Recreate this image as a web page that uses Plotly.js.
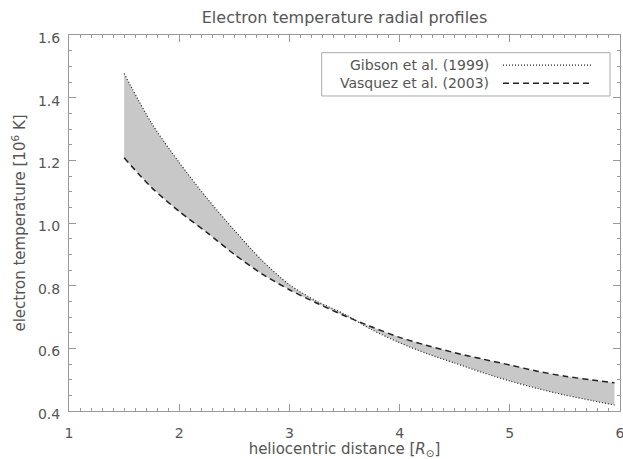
<!DOCTYPE html>
<html>
<head>
<meta charset="utf-8">
<script src="https://cdn.plot.ly/plotly-3.0.1.min.js"></script>
<style>html,body{margin:0;padding:0;background:#fff}#chart{width:623px;height:459px}</style>
</head>
<body>
<div id="chart"></div>
<script>
// Heliocentric distance [R_sun]
const distance = [1.5, 1.75, 2.0, 2.25, 2.5, 2.75, 3.0, 3.25, 3.5, 3.75, 4.0, 4.25, 4.5, 4.75, 5.0, 5.25, 5.5, 5.75, 5.95];
// Gibson et al. (1999) electron temperature [10^6 K]
const gibson = [1.477, 1.318, 1.193, 1.080, 0.977, 0.881, 0.803, 0.750, 0.709, 0.659, 0.618, 0.583, 0.553, 0.523, 0.496, 0.472, 0.451, 0.433, 0.419];
// Vasquez et al. (2003) electron temperature [10^6 K]
const vasquez = [1.208, 1.113, 1.037, 0.970, 0.900, 0.838, 0.787, 0.744, 0.704, 0.668, 0.635, 0.609, 0.586, 0.566, 0.547, 0.527, 0.511, 0.499, 0.490];
const seriesNames = ["Gibson et al. (1999)", "Vasquez et al. (2003)"];
const yTicks = [0.4, 0.6, 0.8, 1.0, 1.2, 1.4, 1.6];
const xTicks = [1, 2, 3, 4, 5, 6];

const textColor = "#555";
const axisColor = "#999";
const fam = "DejaVu Sans, sans-serif";
const dotted = {color: "#222", width: 1.2, dash: "1px,2px", shape: "spline", smoothing: 0.8};
const dashed = {color: "#222", width: 1.5, dash: "6px,4px", shape: "spline", smoothing: 0.8};

const traces = [
  {x: distance, y: vasquez, type: "scatter", mode: "lines", name: seriesNames[1],
   line: Object.assign({}, dashed, {color: "rgba(0,0,0,0)"}), showlegend: false, hoverinfo: "skip"},
  {x: distance, y: gibson, type: "scatter", mode: "lines", name: seriesNames[0],
   line: dotted, fill: "tonexty", fillcolor: "#c8c8c8", showlegend: false, hoverinfo: "skip"},
  {x: distance, y: vasquez, type: "scatter", mode: "lines", name: seriesNames[1],
   line: dashed, showlegend: false, hoverinfo: "skip"}
];

const axisCommon = {
  showgrid: false, zeroline: false, showline: true, linecolor: axisColor, linewidth: 1,
  mirror: "allticks", ticks: "inside", ticklen: 7, tickcolor: axisColor, tickwidth: 1,
  ticklabeloverflow: "allow",
  tickfont: {family: fam, color: textColor, size: 14}
};

const layout = {
  width: 623, height: 459,
  margin: {l: 69, r: 3, t: 35, b: 48},
  paper_bgcolor: "#fff", plot_bgcolor: "#fff",
  title: {text: "Electron temperature radial profiles", font: {family: fam, color: textColor, size: 16},
          x: 0.553, xanchor: "center", y: 0.962, yanchor: "middle"},
  xaxis: Object.assign({}, axisCommon, {
    range: [1, 6], tickvals: xTicks, ticktext: xTicks.map(String), ticklabelstandoff: 9,
    minor: {dtick: 0.1, ticks: "inside", ticklen: 3, tickcolor: axisColor},
    title: {text: "heliocentric distance [<i>R</i><sub>⊙</sub>]", font: {family: fam, color: textColor, size: 15}, standoff: 4}
  }),
  yaxis: Object.assign({}, axisCommon, {
    range: [0.4, 1.6], tickvals: yTicks, ticktext: yTicks.map(v => v.toFixed(1)), ticklabelstandoff: 5,
    ticklabelshift: 3,
    minor: {dtick: 0.05, ticks: "inside", ticklen: 3, tickcolor: axisColor},
    title: {text: "electron temperature [10<sup>6</sup> K]", font: {family: fam, color: textColor, size: 15}, standoff: 8}
  }),
  shapes: [
    {type: "rect", xref: "paper", yref: "paper", x0: 0.4586, x1: 0.9819, y0: 0.8378, y1: 0.953,
     line: {color: "#aaa", width: 1}, fillcolor: "rgba(0,0,0,0)"},
    {type: "line", xref: "paper", yref: "paper", x0: 0.7877, x1: 0.951, y0: 0.920, y1: 0.920,
     line: {color: "#222", width: 1.2, dash: "1px,2px"}},
    {type: "line", xref: "paper", yref: "paper", x0: 0.7877, x1: 0.951, y0: 0.8715, y1: 0.8715,
     line: {color: "#222", width: 1.5, dash: "6px,4px"}}
  ],
  annotations: [
    {text: seriesNames[0], xref: "paper", yref: "paper", x: 0.766, y: 0.920, xanchor: "right", yanchor: "middle",
     showarrow: false, font: {family: fam, color: textColor, size: 14}},
    {text: seriesNames[1], xref: "paper", yref: "paper", x: 0.766, y: 0.8715, xanchor: "right", yanchor: "middle",
     showarrow: false, font: {family: fam, color: textColor, size: 14}}
  ]
};

Plotly.newPlot("chart", traces, layout, {staticPlot: true, displayModeBar: false});
</script>
</body>
</html>
